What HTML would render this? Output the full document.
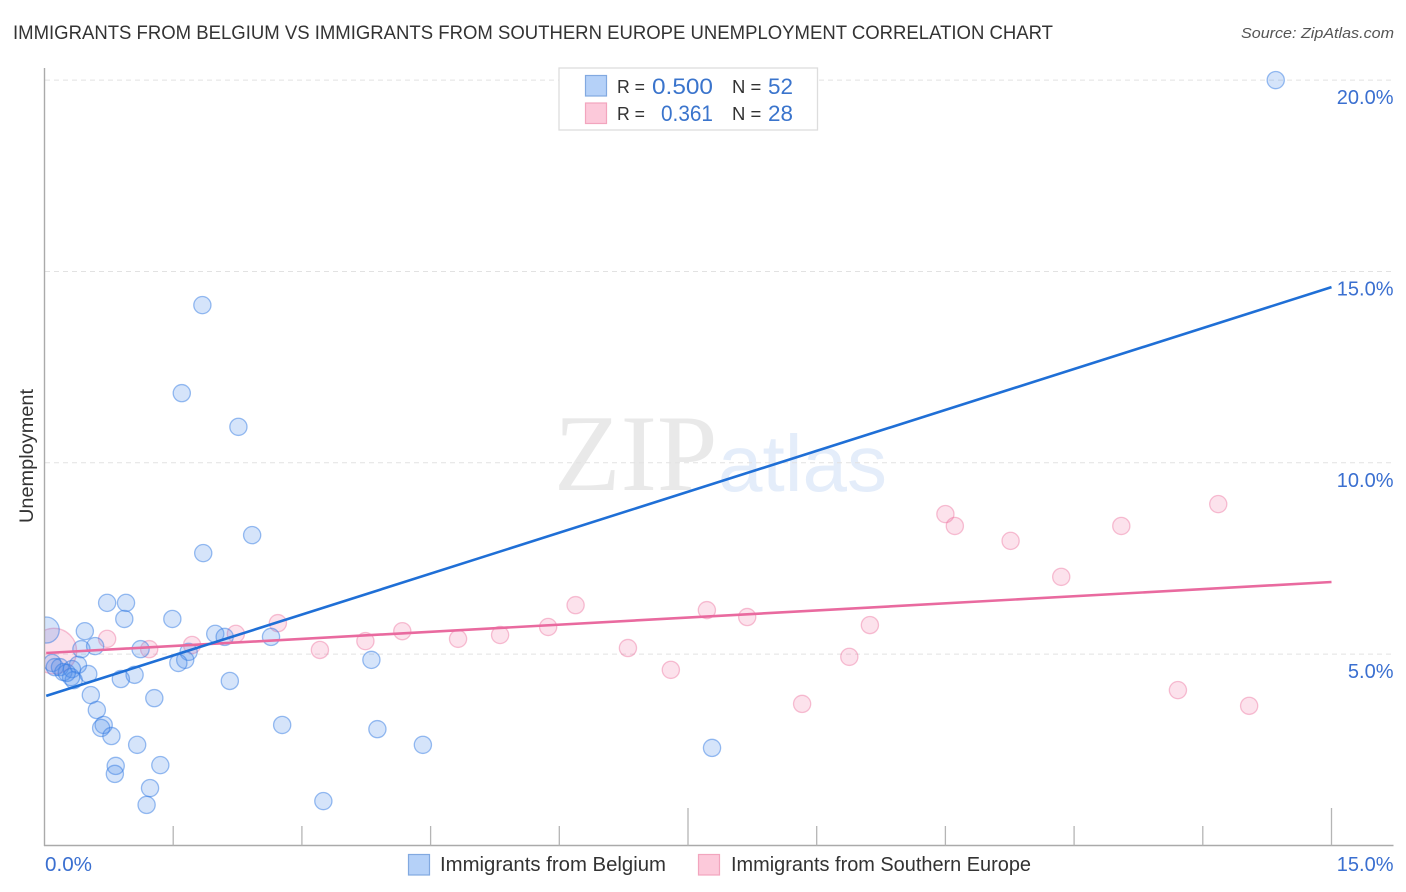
<!DOCTYPE html>
<html lang="en">
<head>
<meta charset="utf-8">
<title>Immigrants from Belgium vs Immigrants from Southern Europe Unemployment Correlation Chart</title>
<style>
html,body{margin:0;padding:0;background:#fff;}
svg{display:block;font-family:"Liberation Sans",sans-serif;}
</style>
</head>
<body>
<svg id="chart" xmlns="http://www.w3.org/2000/svg" width="1406" height="892" viewBox="0 0 1406 892">
  <defs>
    <clipPath id="plot-clip"><rect x="45" y="60" width="1349" height="785"></rect></clipPath>
  </defs>
  <text x="13" y="39" font-size="19.5" fill="#333" textLength="1040" lengthAdjust="spacingAndGlyphs">IMMIGRANTS FROM BELGIUM VS IMMIGRANTS FROM SOUTHERN EUROPE UNEMPLOYMENT CORRELATION CHART</text>
  <text x="1241" y="38" font-size="15" font-style="italic" fill="#555" textLength="153" lengthAdjust="spacingAndGlyphs">Source: ZipAtlas.com</text>

  <g>
    <text x="554" y="490" font-family="'Liberation Serif',serif" font-size="109" fill="#e9e9e9">ZIP</text>
    <text x="718" y="491" font-family="'Liberation Sans',sans-serif" font-size="80" fill="#e4edfa">atlas</text>
  </g>

  <g id="grid"></g>
  <g id="axes"></g>
  <g id="points-pink" clip-path="url(#plot-clip)"></g>
  <g id="points-blue" clip-path="url(#plot-clip)"></g>
  <g id="trend"></g>
  <g id="labels"></g>

  <text transform="translate(33,456) rotate(-90)" font-size="19.5" fill="#333" text-anchor="middle" textLength="134" lengthAdjust="spacingAndGlyphs">Unemployment</text>

  <g>
    <rect x="559" y="68" width="258.5" height="62" fill="#fff" stroke="#ddd" stroke-width="1.3"></rect>
    <rect x="585.5" y="75.5" width="21" height="20.5" fill="#b5d1f8" stroke="#82a9e0" stroke-width="1.2"></rect>
    <rect x="585.5" y="103" width="21" height="20.5" fill="#fcc9da" stroke="#f2a5be" stroke-width="1.2"></rect>
    <text x="617" y="93" font-size="18.5" fill="#333" textLength="28" lengthAdjust="spacingAndGlyphs">R =</text>
    <text x="652" y="94" font-size="22" fill="#3a74cc" textLength="61" lengthAdjust="spacingAndGlyphs">0.500</text>
    <text x="732" y="93" font-size="18.5" fill="#333">N =</text>
    <text x="768" y="94" font-size="22" fill="#3a74cc" textLength="25" lengthAdjust="spacingAndGlyphs">52</text>
    <text x="617" y="120" font-size="18.5" fill="#333" textLength="28" lengthAdjust="spacingAndGlyphs">R =</text>
    <text x="661" y="121" font-size="22" fill="#3a74cc" textLength="52" lengthAdjust="spacingAndGlyphs">0.361</text>
    <text x="732" y="120" font-size="18.5" fill="#333">N =</text>
    <text x="768" y="121" font-size="22" fill="#3a74cc" textLength="25" lengthAdjust="spacingAndGlyphs">28</text>
  </g>

  <g>
    <rect x="408.5" y="854.5" width="21" height="20.5" fill="#b5d1f8" stroke="#82a9e0" stroke-width="1.2"></rect>
    <text x="440" y="871" font-size="20" fill="#333" textLength="226" lengthAdjust="spacingAndGlyphs">Immigrants from Belgium</text>
    <rect x="698.5" y="854.5" width="21" height="20.5" fill="#fcc9da" stroke="#f2a5be" stroke-width="1.2"></rect>
    <text x="731" y="871" font-size="20" fill="#333" textLength="300" lengthAdjust="spacingAndGlyphs">Immigrants from Southern Europe</text>
  </g>
</svg>

<script>
const belgiumX = [0.02,14.35,1.84,1.60,2.26,2.42,1.85,0.73,0.95,0.93,1.49,0.47,0.43,0.59,1.12,1.99,2.10,2.64,1.68,1.64,1.56,2.16,1.05,0.89,0.51,0.39,0.09,0.12,0.18,0.22,0.32,0.34,0.31,0.26,0.54,0.61,1.28,0.69,0.66,0.78,1.08,0.83,0.82,1.35,1.23,1.19,2.77,3.81,3.88,4.41,7.78,3.25];
const belgiumY = [5.63,20.00,14.12,11.82,10.94,8.11,7.64,6.34,6.34,5.92,5.92,5.60,5.13,5.21,5.13,5.53,5.45,5.45,5.06,4.85,4.77,4.30,4.46,4.35,4.48,4.72,4.77,4.66,4.66,4.53,4.61,4.32,4.40,4.51,3.93,3.54,3.85,3.15,3.07,2.86,2.63,2.08,1.87,2.10,1.50,1.06,3.15,4.85,3.04,2.63,2.55,1.16];
const belgiumWeight = [2.3];
const southernX = [0.11,0.73,1.22,1.72,2.23,2.72,3.21,3.74,4.17,4.82,5.31,5.87,6.19,6.80,7.30,7.72,8.19,8.83,9.38,9.62,10.50,10.61,11.26,11.85,12.55,13.21,13.68,14.04];
const southernY = [5.08,5.40,5.13,5.24,5.53,5.81,5.11,5.34,5.60,5.40,5.50,5.71,6.28,5.16,4.59,6.15,5.97,3.70,4.93,5.76,8.66,8.35,7.96,7.02,8.35,4.06,8.92,3.65];
const southernWeight = [7];
const belgiumTrendX = [0.02,15];
const belgiumTrendY = [3.91,14.59];
const southernTrendX = [0.02,15];
const southernTrendY = [5.03,6.885];
const yTickValues = [5,10,15,20];
const yTickLabels = ["5.0%","10.0%","15.0%","20.0%"];
const xTickValues = [0,1.5,3,4.5,6,7.5,9,10.5,12,13.5,15];
const xEndLabels = ["0.0%","15.0%"];

const NS = "http://www.w3.org/2000/svg";
const X = v => 44.5 + v * 85.8;
const Y = v => 845.5 - v * 38.27;
const mk = (parent, tag, attrs) => {
  const el = document.createElementNS(NS, tag);
  for (const k in attrs) el.setAttribute(k, attrs[k]);
  document.getElementById(parent).appendChild(el);
  return el;
};

yTickValues.forEach(v => {
  const g = mk("grid", "line", {x1: 45, x2: 1393.5, y1: Y(v), y2: Y(v), stroke: "#e2e2e2", "stroke-width": 1, "stroke-dasharray": "5 4"});
  
  
});

const yAxis = mk("axes", "line", {x1: 44.5, x2: 44.5, y1: 68, y2: 846, stroke: "#aaa", "stroke-width": 1.4});


const xAxis = mk("axes", "line", {x1: 44, x2: 1393.5, y1: 845.5, y2: 845.5, stroke: "#aaa", "stroke-width": 1.4});


xTickValues.forEach((v, i) => {
  if (i === 0) return;
  const top = i % 5 === 0 ? 808 : 826;
  const t = mk("axes", "line", {x1: X(v), x2: X(v), y1: top, y2: 845.5, stroke: "#b5b5b5", "stroke-width": 1.3});
  
  
});

const dot = (parent, x, y, r, fill, stroke) => mk(parent, "circle", {cx: X(x), cy: Y(y), r: r, fill: fill, stroke: stroke, "stroke-width": 1.3});

southernX.forEach((x, i) => {
  const r = 8.6 * Math.sqrt(southernWeight[i] || 1);
  const c = dot("points-pink", x, southernY[i], r, "rgba(240,112,160,0.2)", "rgba(236,110,155,0.42)");
  
  
});
belgiumX.forEach((x, i) => {
  const r = 8.6 * Math.sqrt(belgiumWeight[i] || 1);
  const c = dot("points-blue", x, belgiumY[i], r, "rgba(74,138,232,0.23)", "rgba(45,120,225,0.48)");
  
  
});

const lp = mk("trend", "line", {x1: X(southernTrendX[0]), x2: X(southernTrendX[1]), y1: Y(southernTrendY[0]), y2: Y(southernTrendY[1]), stroke: "#e96a9f", "stroke-width": 2.6});


const lb = mk("trend", "line", {x1: X(belgiumTrendX[0]), x2: X(belgiumTrendX[1]), y1: Y(belgiumTrendY[0]), y2: Y(belgiumTrendY[1]), stroke: "#1f6fd6", "stroke-width": 2.6});



yTickValues.forEach((v, i) => {
  const t = mk("labels", "text", {x: 1393.5, y: Y(v) + 24, "font-size": 20, fill: "#3a6fd0", "text-anchor": "end"});
  t.textContent = yTickLabels[i];
  
  
});
const x0 = mk("labels", "text", {x: 45, y: 871, "font-size": 20, fill: "#3a6fd0", textLength: 47, lengthAdjust: "spacingAndGlyphs"});
x0.textContent = xEndLabels[0];


const x1 = mk("labels", "text", {x: 1393.5, y: 871, "font-size": 20, fill: "#3a6fd0", "text-anchor": "end"});
x1.textContent = xEndLabels[1];


</script>
</body>
</html>
